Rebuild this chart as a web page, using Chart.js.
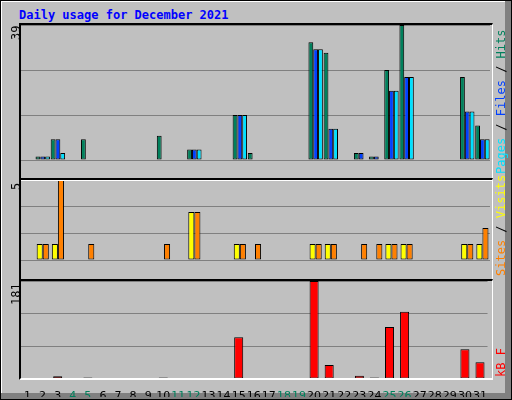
<!DOCTYPE html>
<html><head><meta charset="utf-8">
<script src="https://cdn.jsdelivr.net/npm/chart.js@4"></script>
<style>
body{margin:0;background:#C0C0C0;font-family:"DejaVu Sans Mono",monospace;}
#frame{position:absolute;left:0;top:0;width:510px;height:398px;border:1px solid #000;
  box-shadow:inset -6px -6px 0 #808080, inset 1px 1px 0 #fff;}
.c{position:absolute;left:20px;}
.box{position:absolute;left:19px;width:471px;border-top:2px solid #000;border-left:2px solid #000;border-right:1px solid #fff;border-bottom:2px solid #fff;pointer-events:none;}
.t{position:absolute;font-size:12px;white-space:nowrap;transform-origin:0 0;transform:rotate(-90deg);}
#title{position:absolute;left:19px;top:8px;color:#0000FF;font-weight:bold;font-size:12px;}
</style></head><body>
<div id="frame"></div>
<div id="title">Daily usage for December 2021</div>
<canvas id="c1" class="c" style="top:25px" width="470" height="153"></canvas>
<canvas id="c2" class="c" style="top:180px" width="470" height="98"></canvas>
<canvas id="c3" class="c" style="top:281px" width="470" height="116"></canvas>
<div class="box" style="top:23px;height:154px"></div>
<div class="box" style="top:178px;height:99px"></div>
<div class="box" style="top:279px;height:97px"></div>
<div class="t" style="left:9px;top:40px">39</div>
<div class="t" style="left:9px;top:190px">5</div>
<div class="t" style="left:9px;top:305px">181</div>
<div class="t" style="left:494px;top:174px"><span style="color:#00E0FF">Pages</span> / <span style="color:#0040FF">Files</span> / <span style="color:#00805C">Hits</span></div>
<div class="t" style="left:494px;top:276px"><span style="color:#FF8000">Sites</span> / <span style="color:#FFFF00">Visits</span></div>
<div class="t" style="left:494px;top:377px"><span style="color:#FF0000">kB F</span></div>
<script>
const days = Array.from({length: 31}, (_, i) => String(i + 1));
const weekend = ['4','5','11','12','18','19','25','26'];
const hits   = [0,1,6,0,6,0,0,0,0,7,0,3,0,0,13,2,0,0,0,34,31,0,2,1,26,39,0,0,0,24,10];
const files  = [0,1,6,0,0,0,0,0,0,0,0,3,0,0,13,0,0,0,0,32,9,0,2,1,20,24,0,0,0,14,6];
const pages  = [0,1,2,0,0,0,0,0,0,0,0,3,0,0,13,0,0,0,0,32,9,0,0,0,20,24,0,0,0,14,6];
const visits = [0,1,1,0,0,0,0,0,0,0,0,3,0,0,1,0,0,0,0,1,1,0,0,0,1,1,0,0,0,1,1];
const sites  = [0,1,5,0,1,0,0,0,0,1,0,3,0,0,1,1,0,0,0,1,1,0,1,1,1,1,0,0,0,1,2];
const kbytes = [0,1,5,0,3,0,0,0,0,3,0,1,0,0,77,1,0,0,0,181,26,0,6,3,96,124,0,0,0,55,31];

function ds(data, color, cat) {
  return { data, backgroundColor: color, borderColor: '#000', borderWidth: 1, borderSkipped: false,
    barPercentage: 1, categoryPercentage: cat };
}
function panel(id, sets, max, showX) {
  new Chart(document.getElementById(id), {
    type: 'bar',
    data: { labels: days, datasets: sets },
    options: {
      responsive: false, animation: false,
      layout: { padding: 0 },
      plugins: { legend: { display: false }, tooltip: { enabled: false } },
      scales: {
        x: {
          display: showX,
          grid: { display: false }, border: { display: false },
          ticks: { autoSkip: false, maxRotation: 0, padding: 3,
            color: c => weekend.includes(days[c.index]) ? '#00805C' : '#000',
            font: { family: 'DejaVu Sans', size: 11 } },
          afterFit: s => { s.height = 18; }
        },
        y: {
          min: 0, max,
          afterFit: s => { s.width = 0; },
          afterBuildTicks: s => { s.ticks = [0, max / 3, 2 * max / 3, max].map(v => ({ value: v })); },
          grid: { color: '#808080', drawTicks: false, lineWidth: 1 },
          border: { display: false },
          ticks: { display: false }
        }
      }
    }
  });
}
panel('c1', [ds(hits, '#00805C', 0.95), ds(files, '#0040FF', 0.95), ds(pages, '#00E0FF', 0.95)], 39, false);
panel('c2', [ds(visits, '#FFFF00', 0.8), ds(sites, '#FF8000', 0.8)], 5, false);
panel('c3', [ds(kbytes, '#FF0000', 0.6)], 181, true);
</script>
</body></html>
